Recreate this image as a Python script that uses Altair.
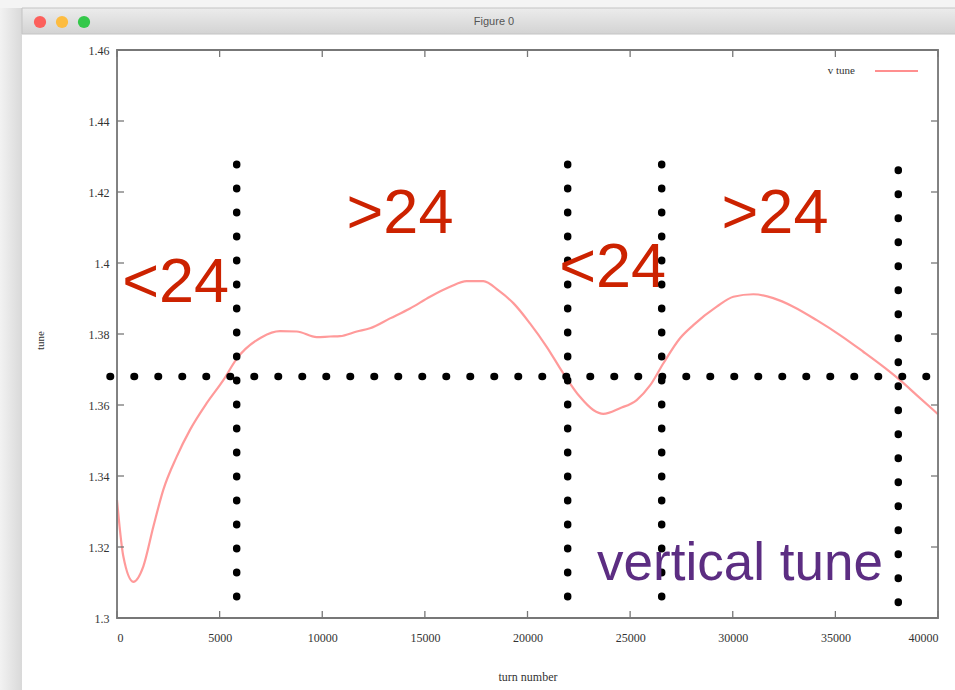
import altair as alt
import pandas as pd

# vertical tune vs turn number
turn = [0, 310, 795, 1280, 1770, 2255, 2905, 3557, 4370, 5180, 5830, 7050, 7940,
        8755, 9730, 10380, 10865, 11680, 12325, 13300, 14275, 15250, 16225, 17035,
        17850, 18600, 19310, 20120, 20935, 21745, 22555, 23205, 23695, 24505, 25320,
        25970, 26615, 27430, 28080, 29220, 30030, 31000, 31975, 32950, 34090, 35225,
        36360, 37335, 38150, 38960, 40000]
tune = [1.3332, 1.3173, 1.3102, 1.3145, 1.3257, 1.3361, 1.3454, 1.3530, 1.3605,
        1.3670, 1.3730, 1.3791, 1.3808, 1.3807, 1.3791, 1.3793, 1.3794, 1.3807,
        1.3816, 1.3844, 1.3872, 1.3905, 1.3933, 1.3949, 1.3949, 1.3922, 1.3887,
        1.3830, 1.3764, 1.3689, 1.3623, 1.3586, 1.3575, 1.3591, 1.3614, 1.3655,
        1.3717, 1.3788, 1.3825, 1.3877, 1.3905, 1.3912, 1.3901, 1.3877, 1.3839,
        1.3797, 1.3750, 1.3708, 1.3670, 1.3628, 1.3574]

# integer resonance level and crossing markers
res_level = [1.368]
res_x_from = [-340]
res_x_to = [39441]
cross_turn = [5832, 21958, 26538, 38065]
cross_top = [1.4278, 1.4278, 1.4278, 1.4262]
cross_bottom = [1.3058, 1.3058, 1.3058, 1.3042]

# region annotations
region_text = ["<24", ">24", "<24", ">24"]
region_x = [2860, 13788, 24150, 32058]
region_y = [1.3890, 1.4085, 1.3932, 1.4085]
name_text = ["vertical tune"]
name_x = [30353]
name_y = [1.3107]

x_ticks = [0, 5000, 10000, 15000, 20000, 25000, 30000, 35000, 40000]
y_ticks = [1.30, 1.32, 1.34, 1.36, 1.38, 1.40, 1.42, 1.44, 1.46]

W, H = 821, 568
SERIF = "Liberation Serif"
SANS = "Liberation Sans"

xs = alt.Scale(domain=[0, 40000], nice=False, zero=False)
ys = alt.Scale(domain=[1.3, 1.46], nice=False, zero=False)

x_axis = alt.Axis(
    values=x_ticks, format="d", domain=False, ticks=False, grid=False,
    labelFont=SERIF, labelFontSize=12, labelColor="#333", labelPadding=14,
    titleFont=SERIF, titleFontSize=12, titleFontWeight="normal",
    titleColor="#333", titleY=58, titleBaseline="middle")
y_axis = alt.Axis(
    values=y_ticks, format=".2~f", domain=False, ticks=False, grid=False,
    labelFont=SERIF, labelFontSize=12, labelColor="#333", labelPadding=8,
    titleFont=SERIF, titleFontSize=11, titleFontWeight="normal",
    titleColor="#333", titleX=-77, titleY=290, titleAngle=270,
    titleBaseline="middle")


def X(field):
    return alt.X(field, scale=xs, axis=x_axis, title="turn number")


def Y(field):
    return alt.Y(field, scale=ys, axis=y_axis, title="tune")


curve = alt.Chart(pd.DataFrame({"turn": turn, "tune": tune})).mark_line(
    color="#ff8f8f", strokeWidth=2.2, interpolate="monotone", opacity=0.9
).encode(x=X("turn:Q"), y=Y("tune:Q"))

tick_color = "#777"
xt = pd.DataFrame({"t": x_ticks})
yt = pd.DataFrame({"t": y_ticks})
ticks_bottom = alt.Chart(xt).mark_rule(color=tick_color, strokeWidth=1.3).encode(
    x=X("t:Q"), y=alt.value(H), y2=alt.value(H - 7))
ticks_top = alt.Chart(xt).mark_rule(color=tick_color, strokeWidth=1.3).encode(
    x=X("t:Q"), y=alt.value(0), y2=alt.value(7))
ticks_left = alt.Chart(yt).mark_rule(color=tick_color, strokeWidth=1.3).encode(
    y=Y("t:Q"), x=alt.value(0), x2=alt.value(7))
ticks_right = alt.Chart(yt).mark_rule(color=tick_color, strokeWidth=1.3).encode(
    y=Y("t:Q"), x=alt.value(W), x2=alt.value(W - 7))

dot_style = dict(color="black", strokeWidth=7.5, strokeCap="round",
                 strokeDash=[0.5, 23.5])
hline = alt.Chart(pd.DataFrame({"y": res_level, "x0": res_x_from, "x1": res_x_to})
                  ).mark_rule(**dot_style).encode(
    x=X("x0:Q"), x2="x1:Q", y=Y("y:Q"))
vlines = alt.Chart(pd.DataFrame({"x": cross_turn, "top": cross_top,
                                 "bot": cross_bottom})).mark_rule(**dot_style).encode(
    x=X("x:Q"), y=Y("top:Q"), y2="bot:Q")

regions = alt.Chart(pd.DataFrame({"x": region_x, "y": region_y, "t": region_text})
                    ).mark_text(font=SANS, fontSize=63, color="#cc2200",
                                align="center", baseline="alphabetic").encode(
    x=X("x:Q"), y=Y("y:Q"), text="t:N")
name = alt.Chart(pd.DataFrame({"x": name_x, "y": name_y, "t": name_text})
                 ).mark_text(font=SANS, fontSize=53, color="#5c2d82",
                             align="center", baseline="alphabetic").encode(
    x=X("x:Q"), y=Y("y:Q"), text="t:N")

one = alt.Data(values=[{}])
key_text = alt.Chart(one).mark_text(
    text="v tune", font=SERIF, fontSize=11, color="#333", align="right",
    baseline="middle").encode(x=alt.value(738), y=alt.value(21))
key_line = alt.Chart(one).mark_rule(color="#ff8f8f", strokeWidth=2.2).encode(
    x=alt.value(758), x2=alt.value(801), y=alt.value(21))
frame = alt.Chart(one).mark_rect(filled=False, stroke="#777", strokeWidth=1.8).encode(
    x=alt.value(0), x2=alt.value(W), y=alt.value(0), y2=alt.value(H))

# window frame around the figure
side = alt.Chart(one).mark_rect(
    fill=alt.LinearGradient(gradient="linear", x1=0, y1=0, x2=1, y2=0,
                            stops=[alt.GradientStop(offset=0, color="#f2f2f2"),
                                   alt.GradientStop(offset=1, color="#d9d9d9")])
).encode(x=alt.value(-117), x2=alt.value(-95), y=alt.value(-50), y2=alt.value(640))
top_strip = alt.Chart(one).mark_rect(color="#f4f4f4").encode(
    x=alt.value(-117), x2=alt.value(838), y=alt.value(-50), y2=alt.value(-42))
bar = alt.Chart(one).mark_rect(
    fill=alt.LinearGradient(gradient="linear", x1=0, y1=0, x2=0, y2=1,
                            stops=[alt.GradientStop(offset=0, color="#ececec"),
                                   alt.GradientStop(offset=1, color="#d3d3d3")]),
    stroke="#c4c4c4", strokeWidth=1
).encode(x=alt.value(-95), x2=alt.value(845), y=alt.value(-42), y2=alt.value(-16))
lights = alt.Chart(alt.Data(values=[{"c": "#fc605c", "px": -77},
                                    {"c": "#fdbc40", "px": -55},
                                    {"c": "#34c84a", "px": -33}])).mark_point(
    filled=True, size=150, opacity=1, shape="circle").encode(
    x=alt.X("px:Q", scale=None, axis=None), y=alt.value(-28),
    color=alt.Color("c:N", scale=None, legend=None))
caption = alt.Chart(one).mark_text(
    text="Figure 0", font=SANS, fontSize=11, color="#555", align="center",
    baseline="middle").encode(x=alt.value(377), y=alt.value(-28))

chart = alt.layer(
    side, top_strip, bar, lights, caption,
    curve, ticks_bottom, ticks_top, ticks_left, ticks_right, frame,
    hline, vlines, regions, name, key_text, key_line,
).properties(
    width=W, height=H,
    autosize=alt.AutoSizeParams(type="none"),
    padding={"left": 117, "top": 50, "right": 17, "bottom": 72},
).configure_view(strokeWidth=0).configure(background="white")

chart.save("out.html", embed_options={"renderer": "svg", "actions": False})
